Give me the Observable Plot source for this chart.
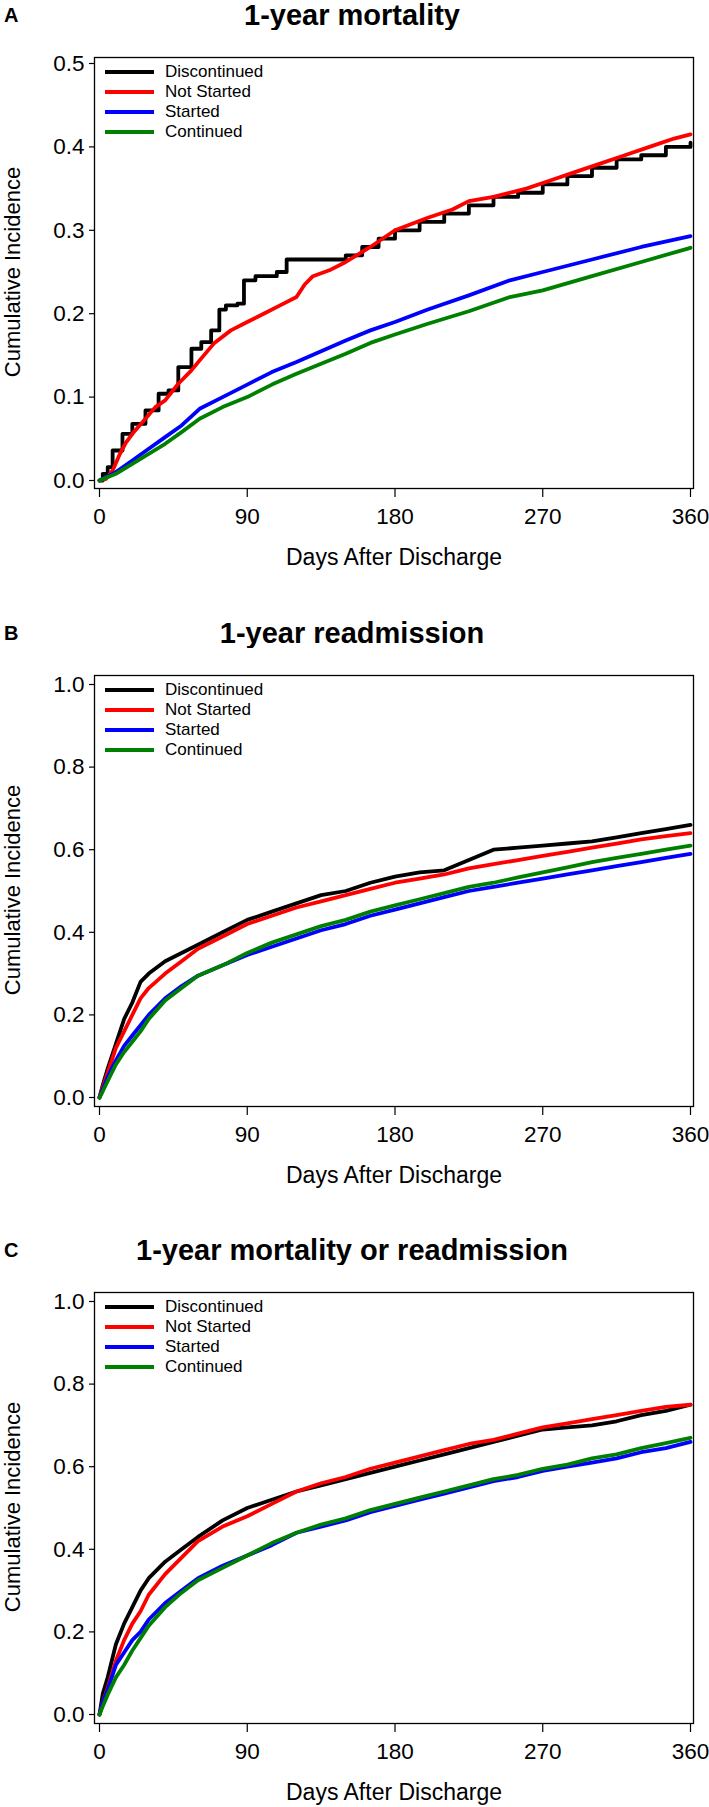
<!DOCTYPE html>
<html><head><meta charset="utf-8">
<script src="https://cdn.jsdelivr.net/npm/d3@7"></script>
<script src="https://cdn.jsdelivr.net/npm/@observablehq/plot@0.6"></script>
<style>
body{margin:0;background:#fff;font-family:"Liberation Sans",Arial,sans-serif;color:#000;}
#root{position:relative;width:709px;height:1807px;overflow:hidden;}
.panel{position:absolute;left:0;width:709px;height:575px;}
.letter{position:absolute;left:4px;top:3px;font-weight:bold;font-size:20px;line-height:24px;}
.title{position:absolute;left:0px;width:704px;top:0px;text-align:center;font-weight:bold;font-size:29px;line-height:30px;}
.ylab{position:absolute;left:13px;top:272px;transform:translate(-50%,-50%) rotate(-90deg);white-space:nowrap;font-size:22px;line-height:22px;}
.legend{position:absolute;left:105px;top:62px;}
.legend .row{height:20px;display:flex;align-items:center;}
.legend .swatch{width:49px;height:4px;margin-right:11px;}
.legend .lab{font-size:17px;line-height:20px;}
</style>
</head><body>
<div id="root"></div>
<script>
// ---- series names & colours ----
const seriesNames = ["Discontinued", "Not Started", "Started", "Continued"];
const seriesColors = ["#000000", "#ff0000", "#0000ff", "#008000"];
const xTicks = [0, 90, 180, 270, 360];
const yTicksA = [0, 0.1, 0.2, 0.3, 0.4, 0.5];
const yTicksBC = [0, 0.2, 0.4, 0.6, 0.8, 1.0];
const panelLetters = ["A", "B", "C"];
const panelTitles = ["1-year mortality", "1-year readmission", "1-year mortality or readmission"];
const xLabel = "Days After Discharge";
const yLabel = "Cumulative Incidence";

// ---- Panel A: 1-year mortality ----
const A_disc_days = [0,2,5,8,14,20,28,36,42,48,56,62,68,73,77,84,88,95,108,114,140,150,160,170,180,195,210,225,240,255,270,285,300,315,330,345,360];
const A_disc = [0,0.008,0.016,0.036,0.056,0.068,0.084,0.104,0.108,0.136,0.158,0.166,0.18,0.205,0.21,0.212,0.24,0.245,0.25,0.265,0.265,0.27,0.28,0.29,0.30,0.31,0.32,0.33,0.34,0.345,0.355,0.365,0.375,0.385,0.39,0.40,0.405];
const A_notStarted_days = [0,4,8,12,16,20,28,34,40,48,56,61,70,80,90,100,110,120,125,130,140,150,165,180,200,215,225,240,260,275,290,305,320,335,350,360];
const A_notStarted = [0,0.002,0.012,0.03,0.045,0.056,0.074,0.088,0.096,0.116,0.132,0.144,0.165,0.18,0.19,0.2,0.21,0.22,0.235,0.245,0.252,0.262,0.28,0.30,0.315,0.325,0.335,0.34,0.35,0.36,0.37,0.38,0.39,0.40,0.41,0.415];
const A_grid_days = [0,10,20,30,40,50,61,75,90,105,120,135,150,165,180,200,225,250,270,300,330,360];
const A_started = [0,0.01,0.024,0.038,0.052,0.066,0.086,0.1,0.115,0.13,0.142,0.155,0.168,0.18,0.19,0.205,0.222,0.24,0.25,0.265,0.28,0.293];
const A_continued = [0,0.008,0.02,0.032,0.044,0.058,0.074,0.088,0.10,0.115,0.128,0.14,0.152,0.165,0.175,0.188,0.203,0.22,0.228,0.245,0.262,0.279];

// ---- Panel B: 1-year readmission ----
const BC_days = [0,2,5,10,15,20,25,30,40,50,60,75,90,105,120,135,150,165,180,195,210,225,240,255,270,285,300,315,330,345,360];
const B_disc = [0,0.03,0.07,0.13,0.19,0.23,0.28,0.30,0.33,0.35,0.37,0.40,0.43,0.45,0.47,0.49,0.50,0.52,0.535,0.545,0.55,0.575,0.60,0.605,0.61,0.615,0.62,0.63,0.64,0.65,0.66];
const B_notStarted = [0,0.025,0.06,0.12,0.16,0.20,0.24,0.265,0.30,0.33,0.36,0.39,0.42,0.44,0.46,0.475,0.49,0.505,0.52,0.53,0.54,0.555,0.565,0.575,0.585,0.595,0.605,0.615,0.625,0.633,0.64];
const B_started = [0,0.02,0.05,0.09,0.125,0.15,0.175,0.20,0.24,0.27,0.295,0.32,0.345,0.365,0.385,0.405,0.42,0.44,0.455,0.47,0.485,0.50,0.51,0.52,0.53,0.54,0.55,0.56,0.57,0.58,0.59];
const B_continued = [0,0.015,0.04,0.08,0.11,0.135,0.16,0.19,0.235,0.265,0.295,0.32,0.35,0.375,0.395,0.415,0.43,0.45,0.465,0.48,0.495,0.51,0.52,0.533,0.545,0.557,0.57,0.58,0.59,0.60,0.61];

// ---- Panel C: 1-year mortality or readmission ----
const C_disc = [0,0.05,0.09,0.17,0.22,0.26,0.30,0.33,0.37,0.40,0.43,0.47,0.50,0.52,0.54,0.555,0.57,0.585,0.60,0.615,0.63,0.645,0.66,0.675,0.69,0.695,0.70,0.71,0.725,0.735,0.75];
const C_notStarted = [0,0.03,0.065,0.13,0.18,0.22,0.25,0.29,0.34,0.38,0.42,0.455,0.48,0.51,0.54,0.56,0.575,0.595,0.61,0.625,0.64,0.655,0.665,0.68,0.695,0.705,0.715,0.725,0.735,0.745,0.75];
const C_started = [0,0.03,0.06,0.12,0.15,0.18,0.20,0.23,0.27,0.30,0.33,0.36,0.385,0.41,0.44,0.455,0.47,0.49,0.505,0.52,0.535,0.55,0.565,0.575,0.59,0.60,0.61,0.62,0.635,0.645,0.66];
const C_continued = [0,0.02,0.048,0.09,0.12,0.155,0.185,0.215,0.26,0.295,0.325,0.355,0.385,0.415,0.44,0.46,0.475,0.495,0.51,0.525,0.54,0.555,0.57,0.58,0.595,0.605,0.62,0.63,0.645,0.657,0.67];

const zip = (days, vals) => days.map((d, i) => ({day: d, value: vals[i]}));

const panels = [
  {yMax: 0.5, yTicks: yTicksA, insetTop: 6, insetBottom: 8, stepBlack: true,
   series: [zip(A_disc_days, A_disc), zip(A_notStarted_days, A_notStarted), zip(A_grid_days, A_started), zip(A_grid_days, A_continued)]},
  {yMax: 1.0, yTicks: yTicksBC, insetTop: 9, insetBottom: 9, stepBlack: false,
   series: [zip(BC_days, B_disc), zip(BC_days, B_notStarted), zip(BC_days, B_started), zip(BC_days, B_continued)]},
  {yMax: 1.0, yTicks: yTicksBC, insetTop: 9, insetBottom: 9, stepBlack: false,
   series: [zip(BC_days, C_disc), zip(BC_days, C_notStarted), zip(BC_days, C_started), zip(BC_days, C_continued)]}
];
const panelTops = [0, 618, 1235];
const FONT = '"Liberation Sans", Arial, sans-serif';

const root = document.getElementById("root");
panels.forEach((p, pi) => {
  const div = document.createElement("div");
  div.className = "panel";
  div.style.top = panelTops[pi] + "px";
  const letter = document.createElement("div");
  letter.className = "letter"; letter.textContent = panelLetters[pi];
  const title = document.createElement("div");
  title.className = "title"; title.textContent = panelTitles[pi];
  div.appendChild(title); div.appendChild(letter);

  const lineMarks = p.series.map((data, si) => Plot.line(data, {
    x: "day", y: "value", stroke: seriesColors[si], strokeWidth: 3.8,
    curve: (si === 0 && p.stepBlack) ? "step-after" : "linear",
    strokeLinejoin: "round"
  }));

  const chart = Plot.plot({
    width: 709, height: 540,
    marginTop: 27, marginBottom: 82, marginLeft: 94, marginRight: 16,
    x: {domain: [0, 360], insetLeft: 5, insetRight: 3},
    y: {domain: [0, p.yMax], insetTop: p.insetTop, insetBottom: p.insetBottom},
    style: {fontFamily: FONT, fontSize: "22px", color: "black", background: "white", overflow: "visible"},
    marks: [
      ...lineMarks,
      Plot.frame({stroke: "black", strokeWidth: 1.3}),
      Plot.axisY({ticks: p.yTicks, tickFormat: d3.format(".1f"), tickSize: 5, tickPadding: 5, fontSize: 22.5, label: null, strokeWidth: 1.2}),
      Plot.axisX({ticks: xTicks, tickFormat: d => String(d), tickSize: 9, tickPadding: 11, fontSize: 22.5, label: null, strokeWidth: 1.2}),
      Plot.text([xLabel], {text: d => d, frameAnchor: "bottom", textAnchor: "middle", dy: 69, lineAnchor: "middle", fontSize: 23, fill: "black"})
    ]
  });
  chart.style.position = "absolute";
  chart.style.left = "0px";
  chart.style.top = "30px";
  div.appendChild(chart);

  const ylab = document.createElement("div");
  ylab.className = "ylab"; ylab.textContent = yLabel;
  div.appendChild(ylab);

  const legend = document.createElement("div");
  legend.className = "legend";
  seriesNames.forEach((name, si) => {
    const row = document.createElement("div"); row.className = "row";
    const sw = document.createElement("div"); sw.className = "swatch"; sw.style.background = seriesColors[si];
    const lab = document.createElement("span"); lab.className = "lab"; lab.textContent = name;
    row.appendChild(sw); row.appendChild(lab); legend.appendChild(row);
  });
  div.appendChild(legend);
  root.appendChild(div);
});
</script>
</body></html>
